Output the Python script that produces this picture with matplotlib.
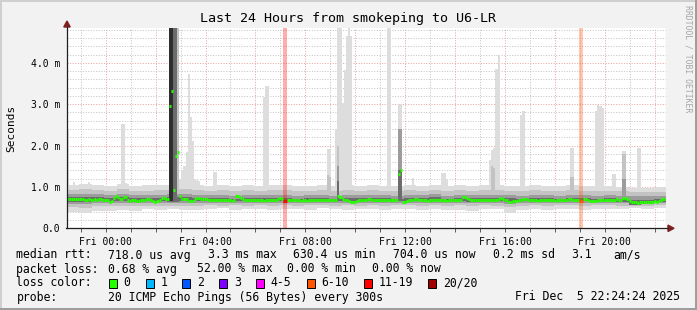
import numpy as np
import matplotlib.pyplot as plt
from matplotlib.patches import Rectangle, Polygon
from matplotlib.lines import Line2D

W, H = 697, 310
plt.rcParams['font.family'] = 'DejaVu Sans Mono'

# ---------------- data ----------------
t_first = -1.55        # first sample in hours relative to Fri 00:00 (Thu 22:27)
step_h = 5 / 60        # one ping round every 300 s
band_h = 0.5

# median rtt in ms, one value per 5 min step (12 rows of 2 hours)
median_ms = [
    0.70, 0.70, 0.70, 0.71, 0.71, 0.70, 0.71, 0.70, 0.69, 0.69, 0.70, 0.69, 0.69, 0.70, 0.69, 0.70, 0.71, 0.69, 0.69, 0.68, 0.64, 0.66, 0.74, 0.79,
    0.76, 0.70, 0.70, 0.76, 0.75, 0.68, 0.67, 0.68, 0.68, 0.67, 0.67, 0.68, 0.68, 0.68, 0.70, 0.72, 0.68, 0.67, 0.64, 0.65, 0.68, 0.74, 0.74, 0.70,
    0.70, 2.95, 3.32, 0.93, 1.75, 1.84, 0.79, 0.72, 0.72, 0.71, 0.67, 0.67, 0.67, 0.72, 0.73, 0.73, 0.72, 0.72, 0.70, 0.70, 0.69, 0.69, 0.69, 0.69,
    0.69, 0.69, 0.68, 0.68, 0.69, 0.68, 0.68, 0.67, 0.68, 0.77, 0.78, 0.73, 0.70, 0.69, 0.68, 0.68, 0.69, 0.68, 0.68, 0.68, 0.68, 0.68, 0.67, 0.68,
    0.68, 0.68, 0.68, 0.68, 0.69, 0.72, 0.74, 0.70, 0.66, 0.66, 0.68, 0.68, 0.68, 0.68, 0.68, 0.68, 0.67, 0.68, 0.68, 0.67, 0.68, 0.68, 0.68, 0.68,
    0.68, 0.68, 0.68, 0.68, 0.68, 0.68, 0.68, 0.69, 0.69, 0.68, 0.79, 0.76, 0.70, 0.68, 0.68, 0.67, 0.64, 0.64, 0.64, 0.65, 0.68, 0.68, 0.68, 0.69,
    0.71, 0.71, 0.69, 0.68, 0.68, 0.68, 0.69, 0.68, 0.68, 0.68, 0.68, 0.68, 0.68, 0.68, 0.68, 1.31, 1.41, 0.64, 0.64, 0.66, 0.68, 0.68, 0.68, 0.70,
    0.70, 0.69, 0.68, 0.68, 0.68, 0.67, 0.68, 0.68, 0.68, 0.68, 0.69, 0.68, 0.68, 0.68, 0.67, 0.68, 0.68, 0.68, 0.68, 0.69, 0.68, 0.68, 0.75, 0.76,
    0.73, 0.70, 0.68, 0.68, 0.68, 0.68, 0.68, 0.68, 0.69, 0.68, 0.68, 0.68, 0.68, 0.68, 0.69, 0.70, 0.74, 0.72, 0.68, 0.68, 0.64, 0.64, 0.65, 0.65,
    0.66, 0.68, 0.68, 0.71, 0.71, 0.68, 0.68, 0.68, 0.68, 0.68, 0.67, 0.68, 0.68, 0.68, 0.68, 0.68, 0.68, 0.68, 0.67, 0.68, 0.68, 0.68, 0.68, 0.68,
    0.68, 0.71, 0.71, 0.68, 0.68, 0.68, 0.65, 0.66, 0.71, 0.71, 0.68, 0.66, 0.66, 0.66, 0.66, 0.68, 0.68, 0.68, 0.69, 0.69, 0.68, 0.68, 0.68, 0.68,
    0.72, 0.69, 0.68, 0.73, 0.73, 0.70, 0.66, 0.63, 0.63, 0.63, 0.62, 0.63, 0.63, 0.63, 0.63, 0.63, 0.64, 0.64, 0.65, 0.64, 0.66, 0.68, 0.71, 0.71,
]

# smoke bands (ms), outer light -> inner dark, per 30 min block
band0_lo = [0.40, 0.37, 0.42, 0.43, 0.45, 0.42, 0.46, 0.44, 0.46, 0.45, 0.44, 0.46,
            0.48, 0.45, 0.47, 0.46, 0.44, 0.47, 0.46, 0.45, 0.48, 0.46, 0.45, 0.47,
            0.46, 0.44, 0.46, 0.47, 0.45, 0.46, 0.44, 0.45, 0.43, 0.47, 0.46, 0.38,
            0.45, 0.46, 0.44, 0.47, 0.46, 0.45, 0.46, 0.47, 0.46, 0.48, 0.47, 0.49]
band0_hi = [1.04, 1.08, 1.05, 1.03, 1.06, 1.02, 1.04, 1.05, 1.05, 1.08, 1.04, 1.03,
            1.05, 1.02, 1.04, 1.03, 1.05, 1.04, 1.02, 1.03, 1.04, 1.02, 1.05, 1.03,
            1.04, 1.03, 1.02, 1.04, 1.03, 1.05, 1.02, 1.04, 1.03, 1.05, 1.04, 1.03,
            1.02, 1.04, 1.03, 1.02, 1.04, 1.03, 1.02, 1.03, 1.00, 0.98, 0.97, 0.99]
band1_lo = [0.52, 0.50, 0.53, 0.54, 0.55, 0.53, 0.55, 0.54, 0.55, 0.54, 0.55, 0.56,
            0.55, 0.56, 0.55, 0.56, 0.55, 0.56, 0.55, 0.56, 0.56, 0.55, 0.56, 0.55,
            0.56, 0.55, 0.56, 0.56, 0.55, 0.56, 0.55, 0.56, 0.54, 0.56, 0.55, 0.51,
            0.55, 0.56, 0.55, 0.56, 0.56, 0.55, 0.56, 0.56, 0.55, 0.55, 0.54, 0.56]
band1_hi = [0.92, 0.95, 0.93, 0.91, 0.94, 0.90, 0.91, 0.92, 0.93, 0.94, 0.92, 0.91,
            0.92, 0.90, 0.92, 0.91, 0.93, 0.92, 0.90, 0.91, 0.92, 0.90, 0.93, 0.91,
            0.92, 0.91, 0.90, 0.92, 0.91, 0.93, 0.90, 0.92, 0.91, 0.93, 0.92, 0.91,
            0.90, 0.92, 0.91, 0.90, 0.92, 0.91, 0.90, 0.91, 0.89, 0.88, 0.87, 0.88]
band2_lo = [0.59, 0.58, 0.60, 0.60, 0.61, 0.60, 0.61, 0.60, 0.60, 0.61, 0.61, 0.62,
            0.61, 0.62, 0.61, 0.62, 0.61, 0.62, 0.61, 0.62, 0.62, 0.61, 0.62, 0.61,
            0.62, 0.61, 0.62, 0.62, 0.61, 0.62, 0.61, 0.62, 0.60, 0.62, 0.61, 0.59,
            0.61, 0.62, 0.61, 0.62, 0.62, 0.61, 0.62, 0.62, 0.60, 0.58, 0.58, 0.60]
band2_hi = [0.82, 0.84, 0.82, 0.81, 0.83, 0.80, 0.80, 0.81, 0.82, 0.82, 0.81, 0.80,
            0.81, 0.79, 0.80, 0.80, 0.81, 0.80, 0.79, 0.80, 0.81, 0.79, 0.81, 0.80,
            0.81, 0.80, 0.79, 0.81, 0.80, 0.82, 0.79, 0.80, 0.80, 0.81, 0.80, 0.80,
            0.79, 0.81, 0.80, 0.79, 0.81, 0.80, 0.79, 0.80, 0.78, 0.77, 0.77, 0.78]
band3_lo = [0.64, 0.63, 0.65, 0.65, 0.65, 0.64, 0.65, 0.65, 0.64, 0.65, 0.65, 0.66,
            0.65, 0.66, 0.65, 0.66, 0.65, 0.66, 0.65, 0.66, 0.66, 0.65, 0.66, 0.65,
            0.66, 0.65, 0.66, 0.66, 0.65, 0.66, 0.65, 0.66, 0.64, 0.66, 0.65, 0.63,
            0.65, 0.66, 0.65, 0.66, 0.66, 0.65, 0.66, 0.66, 0.64, 0.57, 0.59, 0.63]
band3_hi = [0.75, 0.76, 0.75, 0.74, 0.76, 0.73, 0.73, 0.74, 0.75, 0.75, 0.74, 0.73,
            0.74, 0.72, 0.73, 0.73, 0.74, 0.73, 0.72, 0.73, 0.74, 0.72, 0.74, 0.73,
            0.74, 0.73, 0.72, 0.74, 0.73, 0.75, 0.72, 0.73, 0.73, 0.74, 0.73, 0.73,
            0.72, 0.74, 0.73, 0.72, 0.74, 0.73, 0.72, 0.73, 0.71, 0.69, 0.69, 0.71]

# spikes of the smoke above the band: step index and top (ms), per shade
light_steps = [0, 3, 10, 26, 27, 28, 49, 50, 51, 52, 53, 54, 55, 56, 57, 58, 59, 60, 61, 62, 63,
               70, 71, 94, 95, 96, 125, 126, 129, 130, 131, 132, 133, 134, 135, 136, 154, 155,
               159, 160, 166, 180, 181, 182, 203, 204, 205, 206, 207, 218, 219, 242, 243,
               254, 255, 256, 257, 262, 263, 267, 268, 274, 275]
light_tops = [2.40, 1.13, 1.12, 2.51, 2.51, 1.10, 4.85, 4.85, 4.85, 4.85, 4.85, 1.20, 1.40, 1.50, 1.85, 3.72, 2.70, 2.10, 1.20, 1.17, 1.15,
              1.36, 1.36, 3.18, 3.44, 3.44, 1.92, 1.92, 2.40, 4.85, 4.85, 3.03, 3.82, 4.64, 4.85, 4.64, 4.85, 4.85,
              3.00, 3.00, 1.21, 1.34, 1.34, 1.20, 1.65, 1.90, 1.95, 3.86, 4.19, 2.73, 2.84, 1.95, 1.95,
              2.84, 2.98, 2.95, 2.90, 1.31, 1.31, 1.87, 1.87, 1.95, 1.95]
mid_steps = [49, 50, 51, 52, 53, 125, 126, 130, 160, 204, 205, 242, 243, 267, 268]
mid_tops = [4.85, 4.85, 4.85, 4.85, 4.85, 1.30, 1.25, 2.00, 2.40, 1.50, 1.45, 1.25, 1.25, 1.80, 1.80]
dark_steps = [49, 50, 51, 52, 130, 159, 160, 267, 268]
dark_tops = [4.85, 4.85, 4.85, 4.85, 1.50, 2.40, 2.40, 1.20, 1.20]
darker_steps = [49, 50, 51, 52, 130, 159, 160]
darker_tops = [4.85, 4.85, 4.85, 4.85, 1.15, 1.41, 1.41]
black_steps = [49, 50]
black_tops = [4.85, 4.85]

# packet loss (pings lost out of 20)
loss_steps = [104, 105, 246, 247]
loss_pings = [11, 11, 8, 8]

loss_labels = ['0', '1', '2', '3', '4-5', '6-10', '11-19', '20/20']
loss_colors = ['#26ff00', '#00b8ff', '#0059ff', '#7e00ff', '#ff00ff', '#ff5500', '#ff0000', '#a10000']

hour_labels = ['Fri 00:00', 'Fri 04:00', 'Fri 08:00', 'Fri 12:00', 'Fri 16:00', 'Fri 20:00']
hour_ticks = [0, 4, 8, 12, 16, 20]
ms_ticks = [0, 1, 2, 3, 4]
ms_labels = ['0.0', '1.0 m', '2.0 m', '3.0 m', '4.0 m']
ymax = 4.85

shades = ['#dddddd', '#c3c3c3', '#9c9c9c', '#6c6c6c', '#2e2e2e']


def loss_class(n):
    if n <= 3:
        return n
    if n <= 5:
        return 4
    if n <= 10:
        return 5
    if n <= 19:
        return 6
    return 7


# ---------------- figure ----------------
fig = plt.figure(figsize=(W / 100, H / 100), dpi=100, facecolor='#f2f2f2')


def fx(x):
    return x / W


def fy(y):
    return 1 - y / H


x0, x1, ytop, ybot = 67, 666, 27.7, 228.3
ax = fig.add_axes([fx(x0), fy(ybot), (x1 - x0) / W, (ybot - ytop) / H])
ax.set_facecolor('white')
ax.set_xlim(t_first, t_first + 24)
ax.set_ylim(0, ymax)
for s in ax.spines.values():
    s.set_visible(False)

# grid
hours = np.arange(-1, 23)
ax.vlines(hours[hours % 2 != 0], 0, ymax, colors='#c4c4c4', linewidth=0.72,
          linestyles=[(0, (1, 1.6))], zorder=0.5)
ax.vlines(hours[hours % 2 == 0], 0, ymax, colors='#e9a3a3', linewidth=0.72,
          linestyles=[(0, (1, 1.6))], zorder=0.6)
levels = np.round(np.arange(0.2, ymax, 0.2), 1)
major = np.isclose(levels % 1.0, 0) | np.isclose(levels % 1.0, 1.0)
ax.hlines(levels[~major], t_first, t_first + 24, colors='#c4c4c4', linewidth=0.72,
          linestyles=[(0, (1, 1.6))], zorder=0.5)
ax.hlines(levels[major], t_first, t_first + 24, colors='#e9a3a3', linewidth=0.72,
          linestyles=[(0, (1, 1.6))], zorder=0.6)
ax.axvline(t_first + 24, color='#f3c4c4', lw=0.8, zorder=0.6)

# smoke
band_edges = t_first + band_h * np.arange(len(band0_lo) + 1)
bands = [(band0_lo, band0_hi), (band1_lo, band1_hi), (band2_lo, band2_hi), (band3_lo, band3_hi)]
spikes = [(light_steps, light_tops), (mid_steps, mid_tops), (dark_steps, dark_tops),
          (darker_steps, darker_tops), (black_steps, black_tops)]
for lvl in range(5):
    z = 1 + lvl * 0.2
    if lvl < len(bands):
        lo, hi = bands[lvl]
        ax.fill_between(band_edges, lo + lo[-1:], hi + hi[-1:], step='post',
                        color=shades[lvl], lw=0, zorder=z)
    st = np.array(spikes[lvl][0])
    tp = np.array(spikes[lvl][1])
    base = 0.66
    ax.bar(t_first + step_h * st, tp - base, bottom=base, width=step_h, align='edge',
           color=shades[lvl], lw=0, zorder=z + 0.1)

# loss background columns
for s, n in zip(loss_steps, loss_pings):
    ax.bar(t_first + step_h * s, ymax, bottom=0, width=step_h, align='edge',
           color=loss_colors[loss_class(n)], alpha=0.32, lw=0, antialiased=False, zorder=3)

# median
loss = np.zeros(len(median_ms), dtype=int)
loss[loss_steps] = loss_pings
starts = t_first + step_h * np.arange(len(median_ms))
med_cols = [loss_colors[loss_class(n)] for n in loss]
ax.hlines(median_ms, starts, starts + step_h, colors=med_cols, linewidth=2.2, zorder=5)

# ticks
ax.set_xticks(hour_ticks, hour_labels)
ax.set_xticks(hours, minor=True)
ax.tick_params(axis='x', which='both', length=3, width=0.6, color='#444444',
               pad=3, labelsize=7)
ax.set_yticks(ms_ticks, ms_labels)
ax.tick_params(axis='y', which='both', length=0, pad=5, labelsize=7)

# axes lines and arrows
axis_col = '#1f1f1f'
arrow_col = '#801f1f'
fig.add_artist(Line2D([fx(x0), fx(x0)], [fy(ybot), fy(26.5)], color=axis_col, lw=0.9))
fig.add_artist(Line2D([fx(x0 - 1), fx(668)], [fy(ybot), fy(ybot)], color=axis_col, lw=0.9))
fig.add_artist(Polygon([(fx(x0), fy(21.0)), (fx(x0 - 3.2), fy(27.0)), (fx(x0 + 3.2), fy(27.0))],
                       closed=True, color=arrow_col, transform=fig.transFigure))
fig.add_artist(Polygon([(fx(674), fy(ybot)), (fx(668), fy(ybot - 3.2)), (fx(668), fy(ybot + 3.2))],
                       closed=True, color=arrow_col, transform=fig.transFigure))

# frame shading
fig.add_artist(Rectangle((0, fy(2)), 1, 2 / H, color='#cfcfcf', lw=0, transform=fig.transFigure))
fig.add_artist(Rectangle((0, 0), 2 / W, 1, color='#cfcfcf', lw=0, transform=fig.transFigure))
fig.add_artist(Rectangle((0, 0), 1, 2 / H, color='#9e9e9e', lw=0, transform=fig.transFigure))
fig.add_artist(Rectangle((fx(W - 2), 0), 2 / W, 1, color='#9e9e9e', lw=0, transform=fig.transFigure))

# titles
fig.text(fx(348.5), fy(18.5), 'Last 24 Hours from smokeping to U6-LR',
         ha='center', va='center', size=9.6)
fig.text(fx(11), fy(128), 'Seconds', rotation=90, ha='center', va='center', size=8)
fig.text(fx(688), fy(5), 'RRDTOOL / TOBI OETIKER', rotation=270, ha='center', va='top',
         size=5.9, color='#a6a6a6')

# legend rows
fs = 8.3
row1 = [(16.4, 'median rtt:'), (107.6, '718.0 us avg'), (207.6, '3.3 ms max'),
        (293.3, '630.4 us min'), (393.3, '704.0 us now'), (493.3, '0.2 ms sd'),
        (571.0, '3.1'), (613.3, 'am/s')]
row2 = [(16.4, 'packet loss:'), (107.6, '0.68 % avg'), (196.9, '52.00 % max'),
        (286.7, '0.00 % min'), (372.4, '0.00 % now')]
for x, s in row1:
    fig.text(fx(x), fy(255), s, ha='left', va='center', size=fs)
for x, s in row2:
    fig.text(fx(x), fy(269), s, ha='left', va='center', size=fs)

fig.text(fx(16.4), fy(283), 'loss color:', ha='left', va='center', size=fs)
bx = 109.0
cw = 6.93
for lab, col in zip(loss_labels, loss_colors):
    fig.add_artist(Rectangle((fx(bx), fy(287.5)), 8 / W, 9 / H, facecolor=col,
                             edgecolor='black', lw=0.7, transform=fig.transFigure))
    fig.text(fx(bx + 14.6), fy(283), lab, ha='left', va='center', size=fs)
    bx += (len(lab) + 4.3) * cw

fig.text(fx(16.4), fy(297), 'probe:', ha='left', va='center', size=fs)
fig.text(fx(107.6), fy(297), '20 ICMP Echo Pings (56 Bytes) every 300s',
         ha='left', va='center', size=fs)
fig.text(fx(680), fy(297), 'Fri Dec  5 22:24:24 2025', ha='right', va='center', size=fs)

fig.savefig('out.png', dpi=100, facecolor=fig.get_facecolor())
